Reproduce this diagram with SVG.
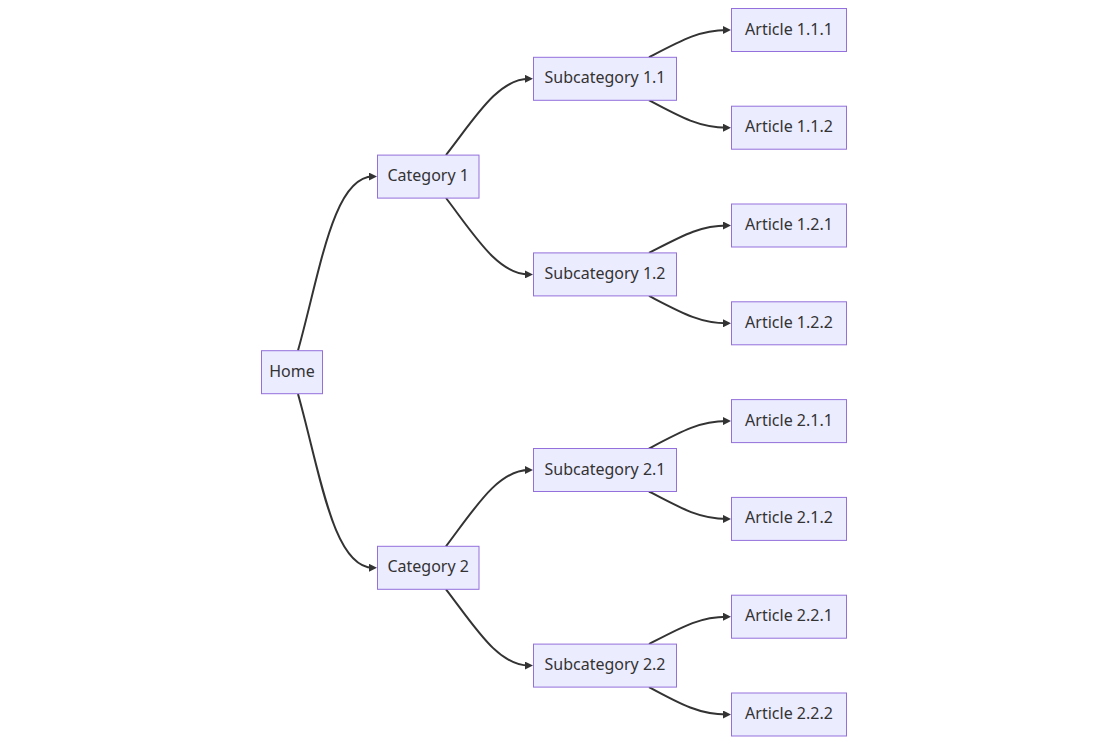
<svg xmlns="http://www.w3.org/2000/svg" width="1108" height="745" viewBox="0 0 1108 745">
<style>
.node rect{fill:#ECECFF;stroke:#9370DB;stroke-width:1px;}
.node text{font-family:"Noto Sans","Liberation Sans",sans-serif;font-size:16px;fill:#333333;text-anchor:middle;dominant-baseline:central;}
.edges path{fill:none;stroke:#333333;stroke-width:2px;marker-end:url(#arrow);}
</style>
<defs>
<marker id="arrow" viewBox="0 0 10 10" refX="5" refY="5" markerUnits="userSpaceOnUse" markerWidth="8" markerHeight="8" orient="auto">
<path d="M0,0 L10,5 L0,10 z" fill="#333333"/>
</marker>
</defs>
<rect width="1108" height="745" fill="#ffffff"/>
<g class="edges">
<path d="M298,350.5 C320,272 333,176.6 373,176.6"/>
<path d="M298,394 C320,472 333,567.8 373,567.8"/>
<path d="M446,155 C475,118 498,78.8 529,78.8"/>
<path d="M446,198 C475,236 498,274.4 529,274.4"/>
<path d="M446,546.3 C475,508 498,470 529,470"/>
<path d="M446,589.3 C475,627 498,665.6 529,665.6"/>
<path d="M649,57.3 C682,40 700,30 727,30"/>
<path d="M649,100.3 C682,118 700,127.7 727,127.7"/>
<path d="M649,252.9 C682,236 700,225.5 727,225.5"/>
<path d="M649,295.9 C682,313 700,323.3 727,323.3"/>
<path d="M649,448.5 C682,431 700,421.1 727,421.1"/>
<path d="M649,491.5 C682,509 700,518.9 727,518.9"/>
<path d="M649,644.1 C682,627 700,616.7 727,616.7"/>
<path d="M649,687.1 C682,705 700,714.5 727,714.5"/>
</g>
<g id="home" class="node"><rect x="261.5" y="350.7" width="61" height="43"/><text x="292" y="370.7">Home</text></g>
<g id="cat1" class="node"><rect x="377.5" y="155.1" width="101.5" height="43"/><text x="428.2" y="175.1">Category 1</text></g>
<g id="cat2" class="node"><rect x="377.5" y="546.3" width="101.5" height="43"/><text x="428.2" y="566.3">Category 2</text></g>
<g id="sub11" class="node"><rect x="533.5" y="57.3" width="143" height="43"/><text x="605" y="77.3">Subcategory 1.1</text></g>
<g id="sub12" class="node"><rect x="533.5" y="252.9" width="143" height="43"/><text x="605" y="272.9">Subcategory 1.2</text></g>
<g id="sub21" class="node"><rect x="533.5" y="448.5" width="143" height="43"/><text x="605" y="468.5">Subcategory 2.1</text></g>
<g id="sub22" class="node"><rect x="533.5" y="644.1" width="143" height="43"/><text x="605" y="664.1">Subcategory 2.2</text></g>
<g id="a111" class="node"><rect x="731.5" y="8.5" width="115" height="43"/><text x="789" y="28.5">Article 1.1.1</text></g>
<g id="a112" class="node"><rect x="731.5" y="106.2" width="115" height="43"/><text x="789" y="126.2">Article 1.1.2</text></g>
<g id="a121" class="node"><rect x="731.5" y="204" width="115" height="43"/><text x="789" y="224">Article 1.2.1</text></g>
<g id="a122" class="node"><rect x="731.5" y="301.8" width="115" height="43"/><text x="789" y="321.8">Article 1.2.2</text></g>
<g id="a211" class="node"><rect x="731.5" y="399.6" width="115" height="43"/><text x="789" y="419.6">Article 2.1.1</text></g>
<g id="a212" class="node"><rect x="731.5" y="497.4" width="115" height="43"/><text x="789" y="517.4">Article 2.1.2</text></g>
<g id="a221" class="node"><rect x="731.5" y="595.2" width="115" height="43"/><text x="789" y="615.2">Article 2.2.1</text></g>
<g id="a222" class="node"><rect x="731.5" y="693" width="115" height="43"/><text x="789" y="713">Article 2.2.2</text></g>
</svg>
